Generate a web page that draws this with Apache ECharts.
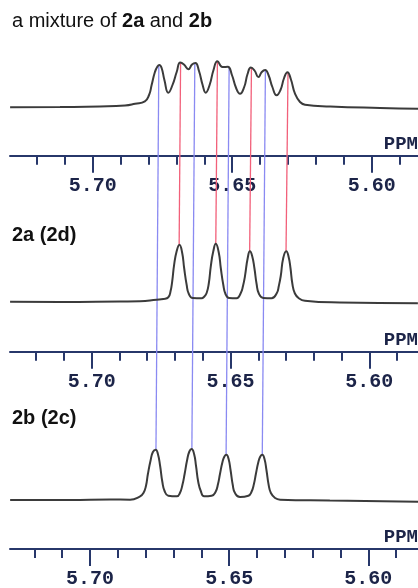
<!DOCTYPE html>
<html>
<head>
<meta charset="utf-8">
<script src="https://cdn.jsdelivr.net/npm/echarts@6/dist/echarts.min.js"></script>
<style>
  html, body { margin: 0; padding: 0; background: #fff; }
  #chart { width: 418px; height: 588px; }
</style>
</head>
<body>
<div id="chart"></div>
<script>
// traced spectrum, mixture of 2a and 2b (ppm, intensity above baseline)
const mixPpm = [5.7296, 5.7117, 5.6974, 5.6884, 5.6848, 5.6813, 5.6798, 5.6789, 5.6777, 5.6768,
  5.6761, 5.6753, 5.6743, 5.6729, 5.6714, 5.6699, 5.6686, 5.6673, 5.6657, 5.6644,
  5.6632, 5.6619, 5.6606, 5.6595, 5.6581, 5.6567, 5.6553, 5.6535, 5.6516, 5.6501,
  5.6486, 5.6472, 5.6457, 5.6445, 5.6433, 5.6420, 5.6406, 5.6394, 5.6382, 5.6370,
  5.6356, 5.6341, 5.6327, 5.6314, 5.6302, 5.6290, 5.6275, 5.6257, 5.6239, 5.6149,
  5.5970, 5.5834]
const mixInt = [-0.6, -0.3, 0.2, 1.2, 3.0, 5.4, 11.7, 21.4, 34.7, 40.2,
  41.7, 38.7, 26.7, 14, 21.7, 34.7, 44.2, 42.2, 37.4, 42.2,
  43.7, 35.7, 21.7, 14, 21.7, 36.7, 45.5, 39.7, 39.9, 31.7,
  18.7, 13, 19.7, 32.7, 39.2, 36.2, 29.7, 34.7, 36.7, 31.7,
  19.7, 11.4, 16.7, 28.7, 34.5, 27.7, 13, 4.7, 2, 0.2,
  -1.3, -2]

// 2a (2d)
const aPpm = [5.7294, 5.7114, 5.6898, 5.6826, 5.6766, 5.6742, 5.6724, 5.6716, 5.6710, 5.6703,
  5.6694, 5.6684, 5.6674, 5.6667, 5.6658, 5.6650, 5.6636, 5.6604, 5.6596, 5.6586,
  5.6578, 5.6571, 5.6562, 5.6553, 5.6542, 5.6535, 5.6526, 5.6518, 5.6505, 5.6478,
  5.6463, 5.6455, 5.6448, 5.6438, 5.6430, 5.6422, 5.6414, 5.6406, 5.6398, 5.6382,
  5.6352, 5.6333, 5.6326, 5.6319, 5.6310, 5.6299, 5.6291, 5.6284, 5.6277, 5.6268,
  5.6254, 5.6232, 5.6106, 5.5825]
const aInt = [1.0, 0.7, 1.2, 1.4, 3.0, 3.7, 5.4, 11.4, 21.4, 38,
  51.4, 58, 49.7, 34.7, 18, 8.7, 4.7, 4.5, 5.7, 9.7,
  19.7, 36.4, 51.4, 58.9, 49.7, 34.7, 18, 8.7, 4.7, 4.5,
  9.7, 16.7, 26.4, 44.7, 51.4, 46.7, 34.7, 18.7, 9.2, 4.7,
  4.5, 9.7, 16.7, 26.7, 44.7, 51.4, 46.2, 34.7, 18.7, 9.2,
  4.5, 2.0, 0.2, -0.6]

// 2b (2c)
const bPpm = [5.7287, 5.7072, 5.6928, 5.6856, 5.6820, 5.6808, 5.6799, 5.6792, 5.6782, 5.6774,
  5.6764, 5.6756, 5.6748, 5.6740, 5.6732, 5.6719, 5.6688, 5.6677, 5.6668, 5.6660,
  5.6651, 5.6643, 5.6635, 5.6626, 5.6619, 5.6611, 5.6602, 5.6590, 5.6563, 5.6549,
  5.6540, 5.6533, 5.6524, 5.6517, 5.6510, 5.6502, 5.6495, 5.6487, 5.6479, 5.6461,
  5.6431, 5.6420, 5.6411, 5.6404, 5.6395, 5.6388, 5.6381, 5.6373, 5.6366, 5.6358,
  5.6350, 5.6335, 5.6317, 5.6138, 5.5821]
const bInt = [0, 0, 0.5, 0.3, 3.7, 7, 14, 26, 40, 48,
  50.3, 46, 34, 18, 9, 4.3, 3.7, 7, 15, 26,
  40, 48.5, 51, 46, 34, 18, 9, 3.7, 4.3, 8,
  16, 26, 38, 43.5, 45.3, 41, 30, 15, 7, 3,
  4.3, 8, 16, 26, 38, 43.5, 45.3, 41, 30, 15,
  7, 2, 0.3, -0.5, -1.7]

// peak positions linking the panels
const peaks2a = [5.6685, 5.6553, 5.6431, 5.6300]
const peaks2b = [5.6763, 5.6634, 5.6511, 5.6381]
const mixAt2a = [44.2, 45.5, 39.2, 34.5]
const mixAt2b = [41.7, 43.7, 39.9, 36.7]
const top2a = [58, 58.9, 51.4, 51.4]
const top2b = [50.3, 51, 45.3, 45.3]

const majorTicks = [5.60, 5.65, 5.70]
const minorTicks = [5.59, 5.61, 5.62, 5.63, 5.64, 5.66, 5.67, 5.68, 5.69, 5.71, 5.72]

const navy = '#27376a'
const monoFont = 'Liberation Mono, Courier New, monospace'

// each panel: axis line y and ppm range (scan is slightly skewed)
const panels = [
  { axisY: 155.7, min: 5.58341, max: 5.72964 },
  { axisY: 351.7, min: 5.58246, max: 5.72943 },
  { axisY: 549, min: 5.58214, max: 5.72875 }
]
const yMin = -49
const yMax = 61

let grid = []
let xAxis = []
let yAxis = []
panels.forEach((p, i) => {
  grid.push({
    left: 10,
    right: 0,
    top: p.axisY - (yMax - yMin),
    height: yMax - yMin,
    outerBoundsMode: 'none',
    containLabel: false
  })
  xAxis.push({
    type: 'value',
    gridIndex: i,
    position: 'bottom',
    inverse: true,
    min: p.min,
    max: p.max,
    name: 'PPM',
    nameLocation: 'start',
    nameGap: 0,
    nameTextStyle: {
      fontFamily: monoFont,
      fontWeight: 'bold',
      fontSize: 19,
      color: '#1c2448',
      align: 'right',
      verticalAlign: 'bottom',
      padding: [0, 0, 2, 0]
    },
    axisLine: { onZero: false, lineStyle: { color: navy, width: 2 } },
    axisTick: { customValues: majorTicks, length: 17, lineStyle: { color: navy, width: 2 } },
    axisLabel: {
      customValues: majorTicks,
      margin: 20,
      fontFamily: monoFont,
      fontWeight: 'bold',
      fontSize: 20,
      color: '#1c2448',
      formatter: v => v.toFixed(2)
    },
    splitLine: { show: false }
  })
  // minor ticks every 0.01 ppm
  xAxis.push({
    type: 'value',
    gridIndex: i,
    position: 'bottom',
    inverse: true,
    min: p.min,
    max: p.max,
    axisLine: { show: false, onZero: false },
    axisTick: { customValues: minorTicks, length: 9, lineStyle: { color: navy, width: 2 } },
    axisLabel: { show: false },
    splitLine: { show: false }
  })
  yAxis.push({ type: 'value', gridIndex: i, min: yMin, max: yMax, show: false })
})

function zip (xs, ys) {
  return xs.map((x, k) => [x, ys[k]])
}

function trace (data, i) {
  return {
    type: 'line',
    xAxisIndex: i * 2,
    yAxisIndex: i,
    data: data,
    showSymbol: false,
    smooth: 0.5,
    clip: false,
    z: 3,
    lineStyle: { color: '#3b3b3b', width: 2 }
  }
}

const labelFont = { fontFamily: 'Liberation Sans, Arial, sans-serif', fontSize: 20, color: '#111' }

const option = {
  backgroundColor: '#ffffff',
  animation: false,
  title: [
    {
      text: 'a mixture of {b|2a} and {b|2b}',
      left: 12,
      top: 11,
      padding: 0,
      textStyle: Object.assign({ fontWeight: 'normal', rich: { b: Object.assign({ fontWeight: 'bold' }, labelFont) } }, labelFont)
    },
    {
      text: '2a (2d)',
      left: 12,
      top: 225,
      padding: 0,
      textStyle: Object.assign({ fontWeight: 'bold' }, labelFont)
    },
    {
      text: '2b (2c)',
      left: 12,
      top: 408,
      padding: 0,
      textStyle: Object.assign({ fontWeight: 'bold' }, labelFont)
    }
  ],
  grid: grid,
  xAxis: xAxis,
  yAxis: yAxis,
  series: [
    trace(zip(mixPpm, mixInt), 0),
    trace(zip(aPpm, aInt), 1),
    trace(zip(bPpm, bInt), 2)
  ]
}

const chart = echarts.init(document.getElementById('chart'))
chart.setOption(option)

// connectors from the mixture peaks down to the pure spectra
let links = []
function link (ppm, hTop, hBottom, bottomSeries, color) {
  const a = chart.convertToPixel({ seriesIndex: 0 }, [ppm, hTop])
  const b = chart.convertToPixel({ seriesIndex: bottomSeries }, [ppm, hBottom])
  links.push({
    type: 'line',
    z: 1,
    shape: { x1: a[0], y1: a[1], x2: b[0], y2: b[1] },
    style: { stroke: color, lineWidth: 1.3 }
  })
}
peaks2b.forEach((p, k) => link(p, mixAt2b[k], top2b[k], 2, '#8a8af2'))
peaks2a.forEach((p, k) => link(p, mixAt2a[k], top2a[k], 1, '#f2607a'))
chart.setOption({ graphic: links })
</script>
</body>
</html>
